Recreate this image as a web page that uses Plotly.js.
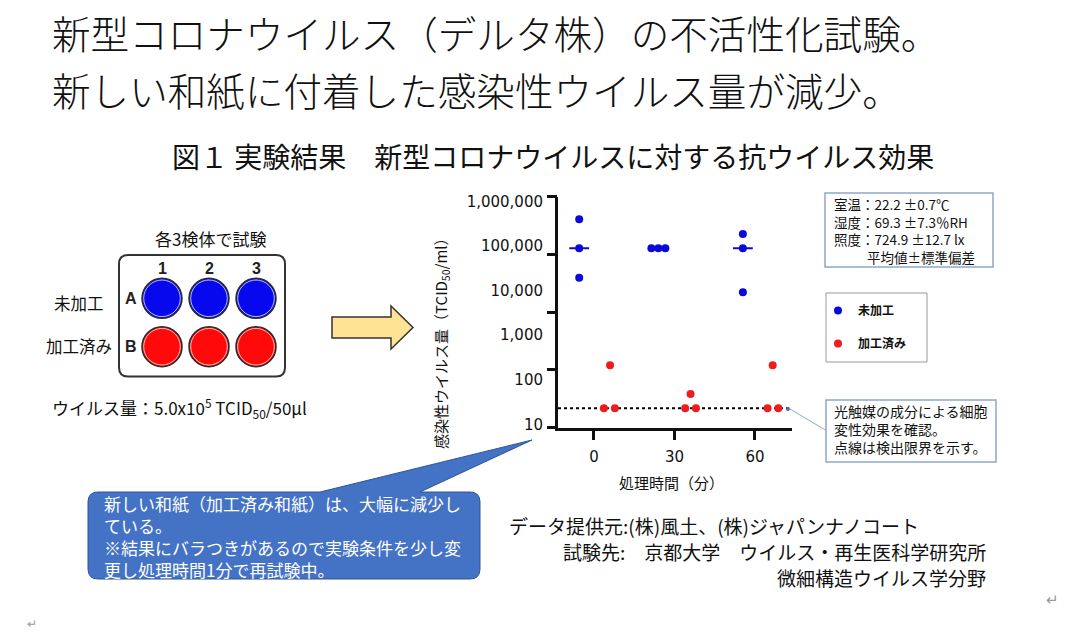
<!DOCTYPE html>
<html>
<head>
<meta charset="utf-8">
<script src="https://cdn.plot.ly/plotly-3.0.1.min.js"></script>
<style>html,body{margin:0;padding:0;background:#fff;}#chart{width:1072px;height:633px;}</style>
</head>
<body>
<div id="chart"></div>
<script>
// ---- data ----
const timeTicks = [0, 30, 60];
const timeTickLabels = ['0', '30', '60'];
const yTickVals = [10, 100, 1000, 10000, 100000, 1000000];
const yTickLabels = ['10', '100', '1,000', '10,000', '100,000', '1,000,000'];
const untreatedName = '未加工';
const treatedName = '加工済み';
const untreatedX = [-5.5, -5.5, -5.5, 21.4, 24.0, 26.6, 55.5, 55.5, 55.5];
const untreatedY = [395000, 88000, 19400, 88000, 88000, 88000, 185000, 88000, 9100];
const treatedX = [3.7, 6.0, 7.8, 34.0, 36.0, 38.0, 64.7, 66.6, 68.7];
const treatedY = [22.8, 210, 22.8, 22.8, 48, 22.8, 22.8, 210, 22.8];
const medianX = [-5.5, 24.0, 55.5];
const medianY = [88000, 88000, 88000];
const detectionLimit = 22.8;

// ---- layout helpers ----
const W = 1072, H = 633;
const X = v => v / W;
const Y = v => 1 - v / H;
const JP = 'Noto Sans CJK JP, sans-serif';
const BLUE = '#0a0ad8', RED = '#ee1c1c';

const xRange = [-13.4, 73.8];
const yRange = [0.924, 6.103];
const medHalf = 3.7;

const medLineX = [], medLineY = [];
medianX.forEach((c, i) => { medLineX.push(c - medHalf, c + medHalf, null); medLineY.push(medianY[i], medianY[i], null); });

const traces = [
  {type: 'scatter', mode: 'lines', x: medLineX, y: medLineY, line: {color: BLUE, width: 2}, showlegend: false, hoverinfo: 'skip'},
  {type: 'scatter', mode: 'lines', x: xRange, y: [detectionLimit, detectionLimit], line: {color: '#000', width: 2, dash: '3px,3px'}, showlegend: false, hoverinfo: 'skip'},
  {type: 'scatter', mode: 'markers', name: untreatedName, legendgroup: 'a', x: untreatedX, y: untreatedY, marker: {color: BLUE, size: 8}},
  {type: 'scatter', mode: 'markers', name: treatedName, legendgroup: 'b', x: treatedX, y: treatedY, marker: {color: RED, size: 8}},
  {type: 'scatter', x: [], y: [], yaxis: 'y2', showlegend: false, hoverinfo: 'skip'}
];

function rrect(x0, y0, x1, y1, r) {
  return `M ${X(x0 + r)},${Y(y0)} L ${X(x1 - r)},${Y(y0)} Q ${X(x1)},${Y(y0)} ${X(x1)},${Y(y0 + r)} L ${X(x1)},${Y(y1 - r)} Q ${X(x1)},${Y(y1)} ${X(x1 - r)},${Y(y1)} L ${X(x0 + r)},${Y(y1)} Q ${X(x0)},${Y(y1)} ${X(x0)},${Y(y1 - r)} L ${X(x0)},${Y(y0 + r)} Q ${X(x0)},${Y(y0)} ${X(x0 + r)},${Y(y0)} Z`;
}
function poly(pts) {
  return 'M ' + pts.map(p => `${X(p[0])},${Y(p[1])}`).join(' L ') + ' Z';
}
const bx0 = 88, by0 = 492, bx1 = 480, by1 = 579, br = 10;
const bubblePath = `M ${X(bx0 + br)},${Y(by0)} L ${X(320)},${Y(by0)} L ${X(532)},${Y(440)} L ${X(420)},${Y(by0)} L ${X(bx1 - br)},${Y(by0)} Q ${X(bx1)},${Y(by0)} ${X(bx1)},${Y(by0 + br)} L ${X(bx1)},${Y(by1 - br)} Q ${X(bx1)},${Y(by1)} ${X(bx1 - br)},${Y(by1)} L ${X(bx0 + br)},${Y(by1)} Q ${X(bx0)},${Y(by1)} ${X(bx0)},${Y(by1 - br)} L ${X(bx0)},${Y(by0 + br)} Q ${X(bx0)},${Y(by0)} ${X(bx0 + br)},${Y(by0)} Z`;

const shapes = [];
const P = {xref: 'paper', yref: 'paper'};
// plate
shapes.push(Object.assign({type: 'path', path: rrect(119, 255, 285, 376.5, 9), fillcolor: '#fff', line: {color: '#333', width: 2}}, P));
const cols = [162, 209, 256], rows = [298.3, 346.7];
const wellFill = ['#0808ee', '#ff0a0a'], wellRing = ['rgba(200,210,255,0.9)', 'rgba(255,200,200,0.9)'];
rows.forEach((cy, ri) => cols.forEach(cx => {
  shapes.push(Object.assign({type: 'circle', x0: X(cx - 20), x1: X(cx + 20), y0: Y(cy + 20), y1: Y(cy - 20), fillcolor: wellFill[ri], line: {color: '#2a2a2a', width: 1.5}}, P));
  shapes.push(Object.assign({type: 'circle', x0: X(cx - 18.3), x1: X(cx + 18.3), y0: Y(cy + 18.3), y1: Y(cy - 18.3), fillcolor: 'rgba(0,0,0,0)', line: {color: wellRing[ri], width: 1}}, P));
}));
// block arrow
shapes.push(Object.assign({type: 'path', path: poly([[332, 317], [391, 317], [391, 306], [413, 327.5], [391, 349], [391, 338], [332, 338]]), fillcolor: '#ffe394', line: {color: '#333', width: 1.5}}, P));
// info box
shapes.push(Object.assign({type: 'rect', x0: X(825), x1: X(993), y0: Y(193), y1: Y(267), fillcolor: '#fff', line: {color: '#8ea8c6', width: 1.5}}, P));
// legend box
shapes.push(Object.assign({type: 'rect', x0: X(826), x1: X(927), y0: Y(293), y1: Y(362), fillcolor: 'rgba(0,0,0,0)', line: {color: '#999', width: 1}}, P));
// callout note box + pointer
shapes.push(Object.assign({type: 'line', x0: X(790), y0: Y(409), x1: X(827), y1: Y(431), line: {color: '#8ea8c6', width: 1}}, P));
shapes.push(Object.assign({type: 'circle', x0: X(786), x1: X(790), y0: Y(411), y1: Y(407), fillcolor: '#4a6fc0', line: {width: 0}}, P));
shapes.push(Object.assign({type: 'rect', x0: X(826), x1: X(996), y0: Y(400), y1: Y(462), fillcolor: '#fff', line: {color: '#8ea8c6', width: 1.5}}, P));
// speech bubble
shapes.push(Object.assign({type: 'path', path: bubblePath, fillcolor: '#4472c4', line: {color: '#2f5597', width: 1}}, P));

const ann = [];
function T(text, x, y, size, opt) {
  opt = opt || {};
  ann.push({xref: 'paper', yref: 'paper', x: X(x), y: Y(y), text: text, showarrow: false,
    xanchor: opt.xanchor || 'left', yanchor: 'middle', textangle: opt.angle || 0, align: 'left',
    font: {family: opt.family || JP, size: size, color: opt.color || '#111', weight: opt.weight || 'normal'}});
}
T('新型コロナウイルス（デルタ株）の不活性化試験。', 50, 32, 38.6, {weight: 300});
T('新しい和紙に付着した感染性ウイルス量が減少。', 50, 89, 38.6, {weight: 300});
T('図１ 実験結果　新型コロナウイルスに対する抗ウイルス効果', 170, 156, 28);
T('各3検体で試験', 210, 238, 17, {xanchor: 'center'});
T('1', 162, 268, 16, {xanchor: 'center', family: 'Liberation Sans, Arial', weight: 'bold', color: '#222'});
T('2', 209, 268, 16, {xanchor: 'center', family: 'Liberation Sans, Arial', weight: 'bold', color: '#222'});
T('3', 256, 268, 16, {xanchor: 'center', family: 'Liberation Sans, Arial', weight: 'bold', color: '#222'});
T('A', 131, 298.3, 16, {xanchor: 'center', family: 'Liberation Sans, Arial', weight: 'bold', color: '#222'});
T('B', 131, 346.7, 16, {xanchor: 'center', family: 'Liberation Sans, Arial', weight: 'bold', color: '#222'});
T('未加工', 52, 303, 16.5);
T('加工済み', 44, 346, 16.5);
T('ウイルス量：5.0x10<sup>5</sup> TCID<sub>50</sub>/50μl', 50, 408, 17);
T('室温：22.2 ±0.7℃<br>湿度：69.3 ±7.3％RH<br>照度：724.9 ±12.7 lx<br>\u3000\u3000\u00a0\u00a0平均値±標準偏差', 832, 230, 13.5);
T('光触媒の成分による細胞<br>変性効果を確認。<br>点線は検出限界を示す。', 832, 428.5, 14);
T('新しい和紙（加工済み和紙）は、大幅に減少し<br>ている。<br>※結果にバラつきがあるので実験条件を少し変<br>更し処理時間1分で再試験中。', 102, 536, 17, {color: '#fff'});
T('データ提供元:(株)風土、(株)ジャパンナノコート', 507, 525, 19);
T('試験先:　京都大学　ウイルス・再生医科学研究所', 988, 551, 19, {xanchor: 'right'});
T('微細構造ウイルス学分野', 988, 577, 19, {xanchor: 'right'});
T('処理時間（分）', 671, 482, 15, {xanchor: 'center'});
T('感染性ウイルス量（TCID<sub>50</sub>/ml）', 441, 340, 15, {xanchor: 'center', angle: -90});
T('↵', 1052, 598, 15, {xanchor: 'center', color: '#999'});
T('↵', 32, 622, 12, {xanchor: 'center', color: '#999'});

const layout = {
  width: W, height: H,
  margin: {l: 0, r: 0, t: 0, b: 0},
  paper_bgcolor: '#fff', plot_bgcolor: 'rgba(0,0,0,0)',
  showlegend: true,
  legend: {x: X(818), y: Y(296), xanchor: 'left', yanchor: 'top', bgcolor: 'rgba(0,0,0,0)', borderwidth: 0,
    tracegroupgap: 14, font: {family: JP, size: 12, color: '#111', weight: 'bold'}},
  xaxis: {domain: [X(558), X(792)], range: xRange, showgrid: false, zeroline: false, showline: true,
    linecolor: '#111', linewidth: 3, ticks: 'outside', ticklen: 9, tickwidth: 3, tickcolor: '#111',
    tickvals: timeTicks, ticktext: timeTickLabels, ticklabelstandoff: 4,
    tickfont: {family: 'DejaVu Sans', size: 15, color: '#111'}, fixedrange: true},
  yaxis: {domain: [Y(427.7), Y(196.7)], type: 'log', range: yRange, showgrid: false, zeroline: false,
    showline: true, linecolor: '#111', linewidth: 3, ticks: '', tickvals: yTickVals, ticktext: yTickLabels,
    ticklabelstandoff: 9, tickfont: {family: 'DejaVu Sans', size: 15, color: '#111'}, fixedrange: true},
  yaxis2: {overlaying: 'y', anchor: 'x', side: 'left', range: [0, 4], tickvals: [0, 1, 2, 3, 4],
    showticklabels: false, ticks: 'outside', ticklen: 10, tickwidth: 3, tickcolor: '#111',
    showgrid: false, zeroline: false, showline: false, fixedrange: true},
  shapes: shapes,
  annotations: ann
};
Plotly.newPlot('chart', traces, layout, {displayModeBar: false, staticPlot: true});
</script>
</body>
</html>
